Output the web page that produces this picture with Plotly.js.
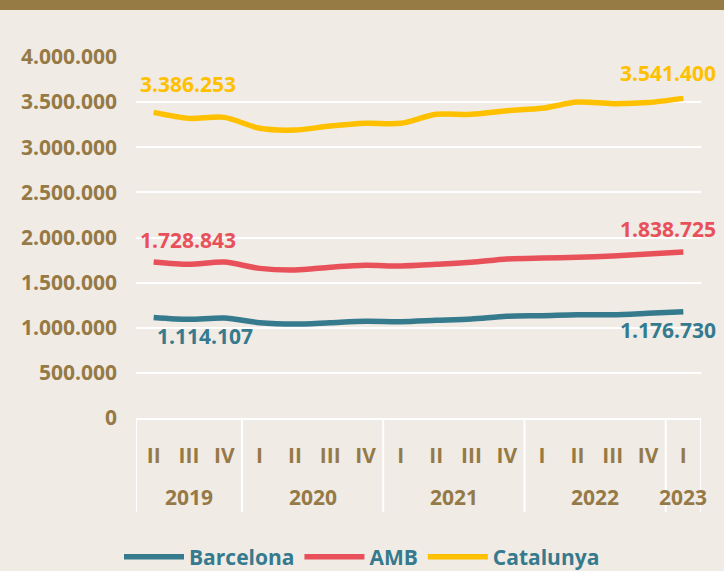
<!DOCTYPE html>
<html>
<head>
<meta charset="utf-8">
<script src="https://cdn.plot.ly/plotly-3.0.1.min.js"></script>
<style>
html,body{margin:0;padding:0;background:#F0EBE5;}
#chart{width:724px;height:571px;}
</style>
</head>
<body>
<div id="chart"></div>
<script>
const years = ['2019','2019','2019','2020','2020','2020','2020','2021','2021','2021','2021','2022','2022','2022','2022','2023'];
const quarters = ['II','III','IV','I','II','III','IV','I','II','III','IV','I','II','III','IV','I'];
const barcelona = [1114107,1093000,1108000,1056000,1041000,1056000,1071000,1067000,1082000,1097000,1127000,1134000,1145000,1145000,1160000,1176730];
const amb = [1728843,1703000,1728000,1658000,1640000,1670000,1692000,1684000,1703000,1725000,1762000,1773000,1780000,1795000,1817000,1838725];
const catalunya = [3386253,3320000,3331000,3210000,3191000,3235000,3265000,3265000,3365000,3365000,3405000,3431000,3501000,3483000,3495000,3541400];
const seriesNames = ['Barcelona','AMB','Catalunya'];
const seriesColors = ['#367A8E','#E8515A','#FFC000'];

const cats = years.map((y,i)=>y+' '+quarters[i]);
const FONT = 'Open Sans, sans-serif';
const FS = 21;
const brown = '#957A47';
const bg = '#F0EBE5';

function fmt(v){return String(Math.round(v)).replace(/\B(?=(\d{3})+(?!\d))/g,'.');}

const data = [barcelona, amb, catalunya].map((vals,k)=>({
  type:'scatter', mode:'lines', x:cats, y:vals, name:seriesNames[k],
  line:{color:seriesColors[k], width:5.5, shape:'spline', smoothing:0.8},
  hoverinfo:'skip'
}));

const annotations = [];
const shifts = [
  {first:[51,-19], last:[-15,-18]},
  {first:[34,22], last:[-15,23]},
  {first:[34,28], last:[-15,25]}
];
[barcelona, amb, catalunya].forEach((vals,k)=>{
  const n = vals.length-1;
  [[0,'first'],[n,'last']].forEach(([i,key])=>{
    annotations.push({x:cats[i], y:vals[i], xref:'x', yref:'y', text:fmt(vals[i]), showarrow:false,
      xshift:shifts[k][key][0], yshift:shifts[k][key][1],
      font:{family:FONT, size:FS, color:seriesColors[k], weight:'bold'}});
  });
});

const groups = [];
years.forEach((y,i)=>{
  if(!groups.length || groups[groups.length-1].year!==y) groups.push({year:y,start:i,end:i});
  else groups[groups.length-1].end=i;
});
const shapes = [];
groups.forEach(g=>{
  annotations.push({x:(g.start+g.end)/2, y:-(497-418)/361, xref:'x', yref:'paper', yanchor:'middle', text:g.year, showarrow:false,
    font:{family:FONT,size:FS,color:brown,weight:'bold'}});
  shapes.push({type:'line', xref:'x', yref:'paper', x0:g.start-0.5, x1:g.start-0.5, y0:0, y1:-(512-418)/361,
    line:{color:'#FFFFFF', width:2}});
});
shapes.push({type:'line', xref:'x', yref:'paper', x0:years.length-0.5, x1:years.length-0.5, y0:0, y1:-(512-418)/361,
  line:{color:'#FFFFFF', width:2}});
shapes.push({type:'rect', xref:'paper', yref:'paper', x0:-136/565, x1:1+23/565, y0:1+47/361, y1:1+57/361,
  line:{width:0}, fillcolor:'#977B45', layer:'below'});

const layout = {
  width:724, height:571,
  margin:{l:136, r:23, t:57, b:153},
  paper_bgcolor:bg, plot_bgcolor:bg,
  separators:',.',
  showlegend:true,
  legend:{orientation:'h', xref:'container', yref:'container', x:0.5, xanchor:'center', y:(571-557)/571, yanchor:'middle',
    font:{family:FONT,size:FS,color:'#367A8E',weight:'bold'}, bgcolor:'rgba(0,0,0,0)', itemwidth:60},
  xaxis:{type:'category', range:[-0.5, years.length-0.5], tickvals:cats, ticktext:quarters,
    showgrid:false, zeroline:false, showline:true, linecolor:'#FFFFFF', linewidth:2,
    ticks:'', ticklabelstandoff:18, tickfont:{family:FONT,size:FS,color:brown,weight:'bold'}, fixedrange:true, automargin:false},
  yaxis:{range:[0,4000000], dtick:500000, tickformat:',d', showgrid:true, gridcolor:'#FFFFFF', gridwidth:2,
    zeroline:false, showline:false, ticks:'', ticklabelstandoff:18, automargin:false,
    tickfont:{family:FONT,size:FS,color:brown,weight:'bold'}, fixedrange:true},
  annotations:annotations, shapes:shapes
};
Plotly.newPlot('chart', data, layout, {displayModeBar:false, staticPlot:true});
</script>
</body>
</html>
